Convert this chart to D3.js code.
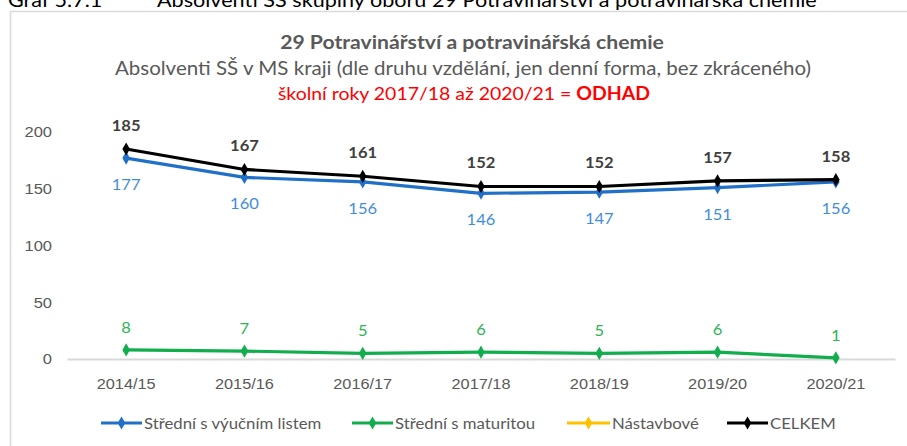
<!DOCTYPE html>
<html><head><meta charset="utf-8">
<script src="https://cdn.jsdelivr.net/npm/d3@7"></script>
<style>body{margin:0;background:#fff}svg{display:block;font-family:Lato,"Open Sans","Liberation Sans",sans-serif}</style>
</head><body><svg id="c" width="907" height="446"></svg>
<script>
const categories = ["2014/15","2015/16","2016/17","2017/18","2018/19","2019/20","2020/21"];
const vyucni = [177,160,156,146,147,151,156];
const maturita = [8,7,5,6,5,6,1];
const nastavbove = [null,null,null,null,null,null,null];
const celkem = [185,167,161,152,152,157,158];
const yTicks = [0,50,100,150,200];
const seriesNames = ["Střední s výučním listem","Střední s maturitou","Nástavbové","CELKEM"];

const STRETCH = 1.08; // reference text is slightly stretched horizontally
const svg = d3.select("#c");
// outer header (cut off at top)
svg.append("text").attr("x",8).attr("y",7).attr("font-size",20).attr("fill","#000").text("Graf 5.7.1");
svg.append("text").attr("x",157).attr("y",7).attr("font-size",20).attr("fill","#000").text("Absolventi SŠ skupiny oborů 29 Potravinářství a potravinářská chemie");
// chart frame
svg.append("path").attr("d","M10.5,446 V11.5 H907").attr("fill","none").attr("stroke","#d9d9d9").attr("stroke-width",1.5);

svg.append("text").attr("x",472).attr("y",49).attr("text-anchor","middle").attr("font-size",19.6).attr("font-weight","bold").attr("fill","#595959").text("29 Potravinářství a potravinářská chemie");
svg.append("text").attr("x",463).attr("y",75).attr("text-anchor","middle").attr("font-size",19).attr("fill","#595959").text("Absolventi SŠ v MS kraji  (dle druhu vzdělání, jen denní forma, bez zkráceného)");
const t3 = svg.append("text").attr("x",464).attr("y",100).attr("text-anchor","middle").attr("font-size",18).attr("fill","#ff0000");
t3.append("tspan").text("školní roky 2017/18 až 2020/21 = ");
t3.append("tspan").attr("font-weight","bold").text("ODHAD");

const x = d3.scaleBand().domain(categories).range([67,895]);
const y = d3.scaleLinear().domain([0,200]).range([359,132]);

// y axis labels
const ya = svg.append("g").attr("transform","translate(52,0)").call(d3.axisLeft(y).tickValues(yTicks).tickSize(0).tickPadding(0));
ya.select(".domain").remove();
ya.selectAll("text").attr("font-size",15.3).attr("fill","#595959").attr("font-family",null);
// x axis
const xa = svg.append("g").attr("transform","translate(0,359)").call(d3.axisBottom(x).tickSize(0).tickPadding(19));
xa.select(".domain").attr("stroke","#d9d9d9").attr("stroke-width",2);
xa.selectAll("text").attr("font-size",15.1).attr("fill","#595959").attr("font-family",null);

const cx = d => x(d) + x.bandwidth()/2;
const series = [
  {name:seriesNames[0], vals:vyucni, color:"#2170c8", label:"#3f8ed8", pos:"below", bold:false},
  {name:seriesNames[1], vals:maturita, color:"#12ad4c", label:"#2cb455", pos:"above", bold:false},
  {name:seriesNames[2], vals:nastavbove, color:"#ffc000", label:"#ffc000", pos:"above", bold:false},
  {name:seriesNames[3], vals:celkem, color:"#000000", label:"#404040", pos:"above", bold:true}
];
const line = d3.line().defined(d=>d.v!=null).x(d=>cx(d.c)).y(d=>y(d.v));
const diamond = d3.symbol().type(d3.symbolDiamond).size(50);
series.forEach(s=>{
  const pts = categories.map((c,i)=>({c, v:s.vals[i]}));
  const g = svg.append("g");
  g.append("path").datum(pts).attr("d",line).attr("fill","none").attr("stroke",s.color).attr("stroke-width",3.2).attr("stroke-linejoin","round");
  g.selectAll("path.m").data(pts.filter(d=>d.v!=null)).join("path").attr("class","m")
    .attr("d",diamond).attr("transform",d=>`translate(${cx(d.c)},${y(d.v)})`).attr("fill",s.color);
  g.selectAll("text").data(pts.filter(d=>d.v!=null)).join("text")
    .attr("x",d=>cx(d.c)).attr("y",d=>s.pos==="above"? y(d.v)-(s.bold?18:17) : y(d.v)+32)
    .attr("text-anchor","middle").attr("font-size",15.3).attr("font-weight",s.bold?"bold":"normal")
    .attr("fill",s.label).text(d=>d.v);
});

// legend
const legX = [101,352,567,727];
const legW = [41,41,43,41];
series.forEach((s,i)=>{
  const g = svg.append("g").attr("transform",`translate(${legX[i]},423)`);
  g.append("line").attr("x1",0).attr("x2",legW[i]).attr("stroke",s.color).attr("stroke-width",3);
  g.append("path").attr("d",diamond).attr("transform",`translate(${legW[i]/2},0)`).attr("fill",s.color);
  g.append("text").attr("x",legW[i]+2).attr("y",6).attr("font-size",15.5).attr("fill","#595959").text(s.name);
});

svg.selectAll("text").each(function(){
  const L = this.getComputedTextLength();
  if (L>0) { this.setAttribute("textLength", L*STRETCH); this.setAttribute("lengthAdjust","spacingAndGlyphs"); }
});
</script></body></html>
